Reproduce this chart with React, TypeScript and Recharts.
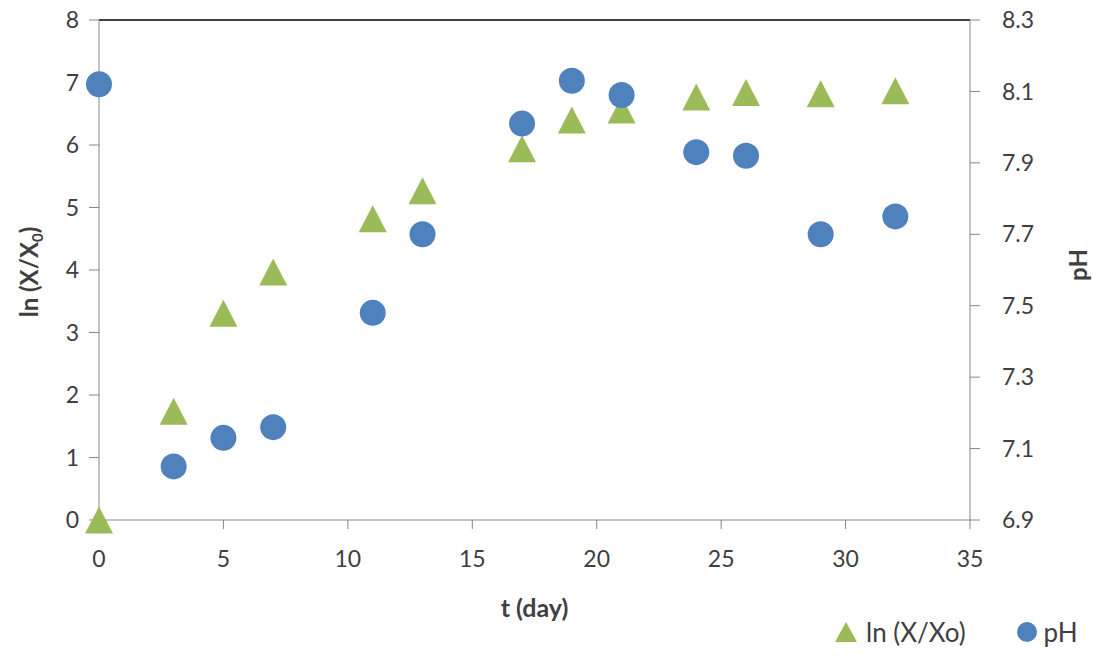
import React from 'react'
import { ScatterChart, Scatter, XAxis, YAxis, ReferenceLine } from 'recharts'

const days = [0, 3, 5, 7, 11, 13, 17, 19, 21, 24, 26, 29, 32]
const lnValues = [0, 1.74, 3.31, 3.97, 4.82, 5.27, 5.94, 6.4, 6.56, 6.77, 6.84, 6.82, 6.87]
const phValues = [8.12, 7.05, 7.13, 7.16, 7.48, 7.7, 8.01, 8.13, 8.09, 7.93, 7.92, 7.7, 7.75]

const xTicks = [0, 5, 10, 15, 20, 25, 30, 35]
const lnTicks = [0, 1, 2, 3, 4, 5, 6, 7, 8]
const phTicks = [6.9, 7.1, 7.3, 7.5, 7.7, 7.9, 8.1, 8.3]

const lnData = days.map((t, i) => ({ t, v: lnValues[i] }))
const phData = days.map((t, i) => ({ t, v: phValues[i] }))

const GREEN = '#9bbb59'
const BLUE = '#4f81bd'
const AXIS = '#868686'
const TEXT = '#404040'
const FONT = 'Lato, "Open Sans", sans-serif'

const tickStyle = { fill: TEXT, fontSize: 23, fontFamily: FONT }

const Triangle = (props: any) => {
    const { cx, cy } = props
    if (cx == null || cy == null) return null
    const h = 27
    const w = 28
    return (
        <polygon
            points={`${cx},${cy - h / 2} ${cx + w / 2},${cy + h / 2} ${cx - w / 2},${cy + h / 2}`}
            fill={GREEN}
        />
    )
}

const Dot = (props: any) => {
    const { cx, cy } = props
    if (cx == null || cy == null) return null
    return <circle cx={cx} cy={cy} r={13} fill={BLUE} />
}

const App: React.FC = () => {
    return (
        <div style={{ position: 'absolute', left: 0, top: 0, width: 1097, height: 658, background: '#fff', fontFamily: FONT }}>
            <ScatterChart width={1097} height={658} margin={{ top: 20, right: 47, bottom: 78, left: 39 }}>
                <XAxis
                    type="number"
                    dataKey="t"
                    domain={[0, 35]}
                    ticks={xTicks}
                    height={60}
                    stroke={AXIS}
                    tickSize={9}
                    tickMargin={22}
                    tick={tickStyle}
                    label={{
                        content: (p: any) => {
                            const vb = p.viewBox
                            return (
                                <text x={vb.x + vb.width / 2} y={617} textAnchor="middle" fontSize={25} fontWeight="bold" fill={TEXT} fontFamily={FONT}>
                                    t (day)
                                </text>
                            )
                        },
                    }}
                />
                <YAxis
                    yAxisId="ln"
                    type="number"
                    dataKey="v"
                    domain={[0, 8]}
                    ticks={lnTicks}
                    width={60}
                    stroke={AXIS}
                    tickSize={10}
                    tickMargin={10}
                    tick={tickStyle}
                    label={{
                        content: () => (
                            <text transform="translate(38,272) rotate(-90)" textAnchor="middle" fontSize={24} fontWeight="bold" fill={TEXT} fontFamily={FONT}>
                                ln (X/X<tspan fontSize={15} dy={5}>0</tspan><tspan dy={-5}>)</tspan>
                            </text>
                        ),
                    }}
                />
                <YAxis
                    yAxisId="ph"
                    orientation="right"
                    type="number"
                    dataKey="v"
                    domain={[6.9, 8.3]}
                    ticks={phTicks}
                    width={80}
                    stroke={AXIS}
                    tickSize={10}
                    tickMargin={22}
                    tick={tickStyle}
                    label={{
                        content: () => (
                            <text transform="translate(1087,265) rotate(-90)" textAnchor="middle" fontSize={24} fontWeight="bold" fill={TEXT} fontFamily={FONT}>
                                pH
                            </text>
                        ),
                    }}
                />
                <ReferenceLine yAxisId="ln" y={8} stroke="#000" strokeWidth={1.5} ifOverflow="visible" />
                <Scatter name="ln (X/Xo)" data={lnData} yAxisId="ln" shape={Triangle} isAnimationActive={false} />
                <Scatter name="pH" data={phData} yAxisId="ph" shape={Dot} isAnimationActive={false} />
            </ScatterChart>
            <div style={{ position: 'absolute', left: 834, top: 616, display: 'flex', alignItems: 'center', fontSize: 26, color: TEXT, whiteSpace: 'nowrap' }}>
                <svg width={24} height={22} style={{ marginRight: 8 }}>
                    <polygon points="12,1 23,21 1,21" fill={GREEN} />
                </svg>
                <span>ln (X/Xo)</span>
                <svg width={22} height={22} style={{ marginLeft: 50, marginRight: 6 }}>
                    <circle cx={11} cy={11} r={10} fill={BLUE} />
                </svg>
                <span>pH</span>
            </div>
        </div>
    )
}

export default App
